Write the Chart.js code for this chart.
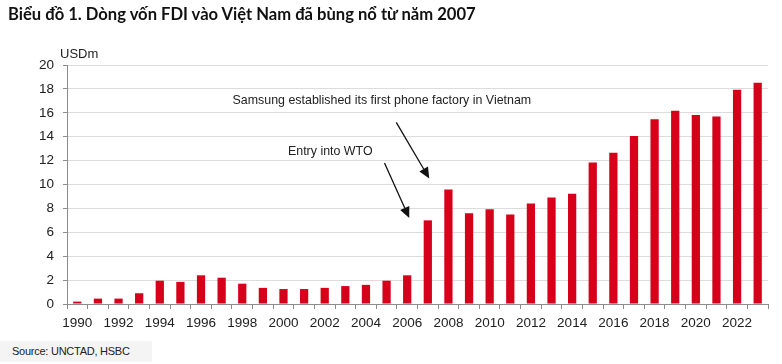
<!DOCTYPE html>
<html>
<head>
<meta charset="utf-8">
<script src="https://cdn.jsdelivr.net/npm/chart.js@4/dist/chart.umd.min.js"></script>
<style>
  html, body { margin: 0; padding: 0; background: #fff; }
  #wrap { position: relative; width: 782px; height: 364px; overflow: hidden; }
  #title { position: absolute; left: 8px; top: 4px; font-family: Lato, "Open Sans", sans-serif; font-weight: bold; font-size: 16.6px; color: #111; white-space: nowrap; }
  #source { position: absolute; left: 0px; top: 341px; height: 21px; line-height: 21px; padding: 0 22px 0 12px; background: #f4f4f4; font-family: "Liberation Sans", Arial, sans-serif; font-size: 11px; letter-spacing: -0.25px; color: #222; white-space: nowrap; }
  canvas { position: absolute; left: 0; top: 0; }
</style>
</head>
<body>
<div id="wrap">
  <canvas id="c" width="782" height="364"></canvas>
  <div id="title">Biểu đồ 1. Dòng vốn FDI vào Việt Nam đã bùng nổ từ năm 2007</div>
  <div id="source">Source: UNCTAD, HSBC</div>
</div>
<script>
const years = ["1990","1991","1992","1993","1994","1995","1996","1997","1998","1999",
               "2000","2001","2002","2003","2004","2005","2006","2007","2008","2009",
               "2010","2011","2012","2013","2014","2015","2016","2017","2018","2019",
               "2020","2021","2022","2023"];
const fdiInflow = [0.2, 0.45, 0.45, 0.9, 1.95, 1.85, 2.4, 2.2, 1.7, 1.35,
                   1.25, 1.25, 1.35, 1.5, 1.6, 1.95, 2.4, 7.0, 9.58, 7.6,
                   7.93, 7.49, 8.4, 8.91, 9.22, 11.84, 12.65, 14.05, 15.47, 16.17,
                   15.81, 15.7, 17.93, 18.52];
const yTicks = [0, 2, 4, 6, 8, 10, 12, 14, 16, 18, 20];
const unitLabel = "USDm";
const noteTexts = ["Entry into WTO", "Samsung established its first phone factory in Vietnam"];

// annotation placement in data coordinates (category index, value)
const notes = [
  { text: noteTexts[0], x: 12.27, y: 12.8, from: [14.9, 11.8], to: [16.1, 7.2] },
  { text: noteTexts[1], x: 14.77, y: 17.07, from: [15.47, 15.2], to: [17.07, 10.5] }
];

const annotate = {
  id: 'annotate',
  afterDatasetsDraw(chart) {
    const ctx = chart.ctx, xs = chart.scales.x, ys = chart.scales.y;
    ctx.save();
    ctx.font = '13px "Liberation Sans", Arial, sans-serif';
    ctx.fillStyle = '#222';
    ctx.textAlign = 'left';
    ctx.textBaseline = 'middle';
    ctx.fillText(unitLabel, chart.chartArea.left - 7, chart.chartArea.top - 11);
    for (const n of notes) {
      ctx.font = '13.5px "Liberation Sans", Arial, sans-serif';
      ctx.fillStyle = '#222';
      ctx.textAlign = 'center';
      ctx.textBaseline = 'middle';
      const w = ctx.measureText(n.text).width;
      ctx.fillText(n.text, xs.getPixelForValue(n.x), ys.getPixelForValue(n.y), w * 0.92);
      const x1 = xs.getPixelForValue(n.from[0]), y1 = ys.getPixelForValue(n.from[1]);
      const x2 = xs.getPixelForValue(n.to[0]), y2 = ys.getPixelForValue(n.to[1]);
      const ang = Math.atan2(y2 - y1, x2 - x1);
      const hl = 11, hw = 5;
      const bx = x2 - hl * Math.cos(ang), by = y2 - hl * Math.sin(ang);
      ctx.strokeStyle = '#111';
      ctx.lineWidth = 1.3;
      ctx.beginPath(); ctx.moveTo(x1, y1); ctx.lineTo(bx, by); ctx.stroke();
      ctx.fillStyle = '#111';
      ctx.beginPath();
      ctx.moveTo(x2, y2);
      ctx.lineTo(bx + hw * Math.sin(ang), by - hw * Math.cos(ang));
      ctx.lineTo(bx - hw * Math.sin(ang), by + hw * Math.cos(ang));
      ctx.closePath(); ctx.fill();
    }
    ctx.restore();
  }
};

new Chart(document.getElementById('c'), {
  type: 'bar',
  data: {
    labels: years,
    datasets: [{
      data: fdiInflow,
      backgroundColor: '#d6001a',
      borderWidth: 0,
      categoryPercentage: 1,
      barPercentage: 0.4
    }]
  },
  options: {
    responsive: false,
    animation: false,
    devicePixelRatio: 1,
    layout: { padding: { top: 65, right: 14, bottom: 0, left: 0 } },
    plugins: { legend: { display: false }, tooltip: { enabled: false }, title: { display: false } },
    scales: {
      x: {
        afterFit(s) { s.height = 60; },
        border: { display: true, color: '#8c8c8c', width: 1 },
        grid: { display: true, drawOnChartArea: false, drawTicks: true, tickLength: 5, color: '#8c8c8c', offset: true },
        ticks: {
          autoSkip: false, maxRotation: 0, minRotation: 0, padding: 6,
          color: '#222',
          font: { family: '"Liberation Sans", Arial, sans-serif', size: 13.5 },
          callback(v, i) { return i % 2 === 0 ? years[i] : ''; }
        }
      },
      y: {
        min: 0, max: 20,
        afterFit(s) { s.width = 67; },
        afterBuildTicks(s) { s.ticks = yTicks.map(v => ({ value: v })); },
        border: { display: true, color: '#8c8c8c', width: 1 },
        grid: { color: '#dcdcdc', lineWidth: 1, drawTicks: true, tickLength: 4, tickColor: '#8c8c8c' },
        ticks: {
          padding: 9, color: '#222',
          font: { family: '"Liberation Sans", Arial, sans-serif', size: 13.5 }
        }
      }
    }
  },
  plugins: [annotate]
});
</script>
</body>
</html>
